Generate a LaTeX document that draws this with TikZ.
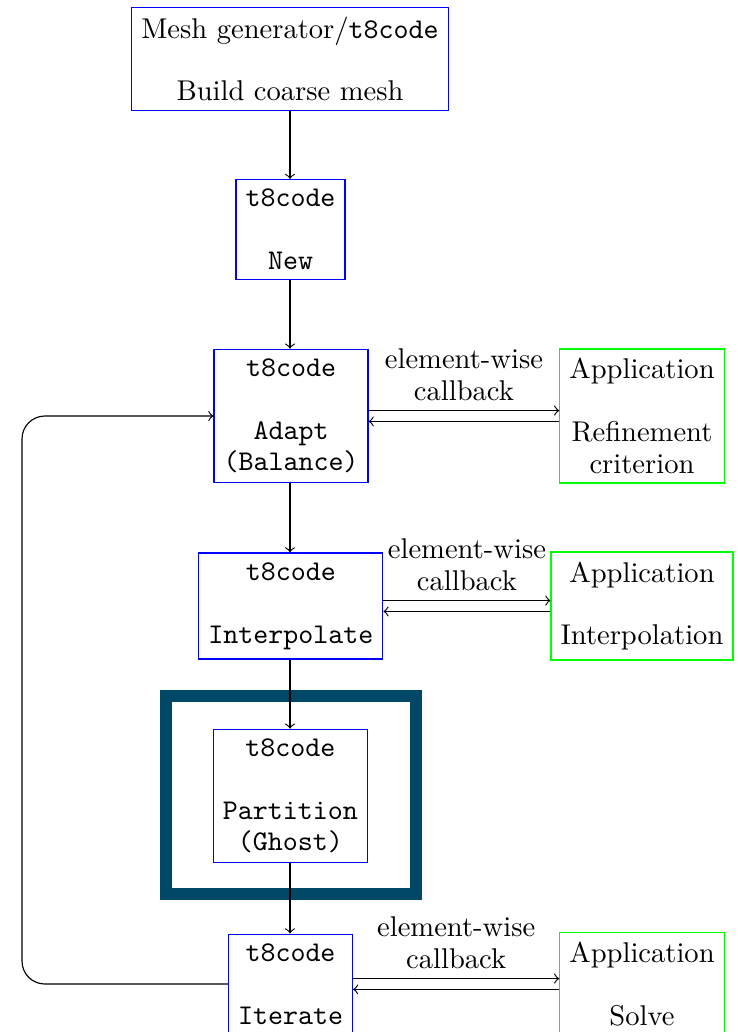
\documentclass[tikz,border=0pt]{standalone}
\usetikzlibrary{arrows}
\definecolor{framecol}{RGB}{0,72,102}
\begin{document}
\begin{tikzpicture}[x=0.35pt,y=-0.35pt,
  every node/.style={font=\fontsize{10}{11}\selectfont, align=center},
  tbox/.style={draw=blue, inner sep=3.333pt},
  abox/.style={draw=green, inner sep=3.333pt},
  flow/.style={->, black},
  lbl/.style={midway, above, inner sep=3.333pt}]
\useasboundingbox (0,0) rectangle (738,1032);
% nodes
\node[tbox] (mesh) at (290,59) {Mesh generator/\texttt{t8code}\\ \\ Build coarse mesh};
\node[tbox] (new) at (290.5,229.5) {\texttt{t8code}\\ \\ \texttt{New}};
\node[tbox] (adapt) at (291,416) {\texttt{t8code}\\ \\ \texttt{Adapt}\\ \texttt{(Balance)}};
\node[tbox] (interp) at (290.8,606) {\texttt{t8code}\\ \\ \texttt{Interpolate}};
\node[tbox] (part) at (290.3,796) {\texttt{t8code}\\ \\ \texttt{Partition}\\ \texttt{(Ghost)}};
\node[tbox] (iter) at (290.5,984) {\texttt{t8code}\\ \\ \texttt{Iterate}};
\node[abox] (app1) at (642,416) {Application\\ \\ Refinement\\ criterion};
\node[abox] (app2) at (642,606) {Application\\ \\ Interpolation};
\node[abox] (app3) at (642,984) {Application\\ \\ Solve};
% highlight frame
\draw[framecol, line width=4.2pt] (166,696) rectangle (416,894);
% vertical flow
\draw[flow] (mesh.south -| 290,0) -- (new.north -| 290,0);
\draw[flow] (new.south -| 290,0) -- (adapt.north -| 290,0);
\draw[flow] (adapt.south -| 290,0) -- (interp.north -| 290,0);
\draw[flow] (interp.south -| 290,0) -- (part.north -| 290,0);
\draw[flow] (part.south -| 290,0) -- (iter.north -| 290,0);
% callbacks
\draw[flow] ([yshift=1.9pt]adapt.east) -- ([yshift=1.9pt]app1.west) node[lbl] {element-wise\\callback};
\draw[flow] ([yshift=-1.9pt]app1.west) -- ([yshift=-1.9pt]adapt.east);
\draw[flow] ([yshift=1.9pt]interp.east) -- ([yshift=1.9pt]app2.west) node[lbl] {element-wise\\callback};
\draw[flow] ([yshift=-1.9pt]app2.west) -- ([yshift=-1.9pt]interp.east);
\draw[flow] ([yshift=1.9pt]iter.east) -- ([yshift=1.9pt]app3.west) node[lbl] {element-wise\\callback};
\draw[flow] ([yshift=-1.9pt]app3.west) -- ([yshift=-1.9pt]iter.east);
% loop back
\coordinate (lx) at (22,0);
\draw[flow, rounded corners=8pt] (iter.west) -| (lx |- adapt.west) -- (adapt.west);
\end{tikzpicture}
\end{document}
